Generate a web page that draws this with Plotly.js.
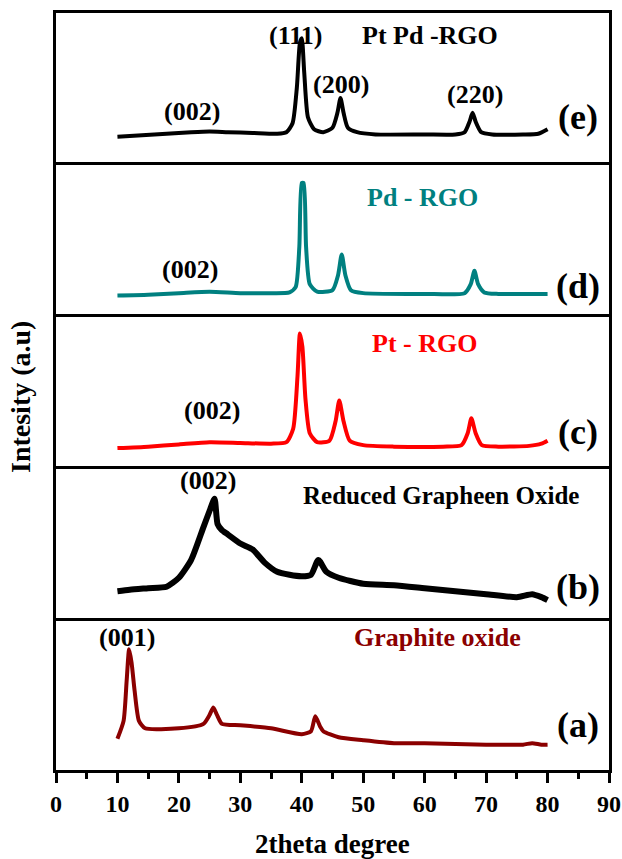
<!DOCTYPE html>
<html><head><meta charset="utf-8">
<script src="https://cdn.plot.ly/plotly-3.0.1.min.js"></script>
<style>html,body{margin:0;padding:0;background:#fff}</style>
</head><body><div id="chart" style="width:622px;height:859px"></div>
<script>
// 2theta (deg) and normalised intensity (a.u.) per sample
const xE = [10,14,18,22,25,28,32,36,37.5,38.5,39.2,39.7,40.0,40.4,41,42,43.5,45,45.8,46.3,46.8,47.5,49,52,60,65,66.5,67.3,67.8,68.3,69.2,71,76,78.5,80];
const yE = [0.17,0.18,0.19,0.2,0.205,0.2,0.195,0.19,0.2,0.26,0.5,0.8,0.83,0.6,0.3,0.22,0.2,0.23,0.33,0.43,0.33,0.23,0.2,0.185,0.185,0.185,0.2,0.27,0.33,0.27,0.2,0.185,0.185,0.19,0.22];
const xD = [10,15,20,25,30,35,38,39,39.6,40.0,40.3,40.7,41.3,42.5,45,45.9,46.5,47.1,48,50,60,66.5,67.5,68.1,68.7,69.7,72,80];
const yD = [0.125,0.13,0.14,0.15,0.14,0.14,0.145,0.18,0.45,0.88,0.88,0.45,0.2,0.15,0.16,0.26,0.40,0.26,0.16,0.14,0.135,0.14,0.2,0.29,0.2,0.145,0.135,0.135];
const xC = [10,15,20,25,30,35,37.5,38.6,39.3,39.7,40.1,40.6,41.3,42.5,44.5,45.5,46.1,46.8,47.8,50,55,63,66,67,67.6,68.3,69.3,72,77,79,80];
const yC = [0.12,0.13,0.145,0.16,0.155,0.15,0.16,0.25,0.6,0.89,0.8,0.45,0.22,0.16,0.17,0.3,0.44,0.3,0.17,0.14,0.13,0.13,0.14,0.22,0.32,0.22,0.14,0.13,0.135,0.15,0.17];
const xB = [10,12,15,18,20,22,24,25,25.8,26.3,27,28,30,32,34,36,38,40,41.5,42.7,44,46,50,55,60,65,70,75,77.5,79,80];
const yB = [0.18,0.19,0.2,0.21,0.27,0.39,0.61,0.72,0.8,0.63,0.59,0.56,0.5,0.46,0.37,0.31,0.29,0.28,0.29,0.39,0.31,0.27,0.23,0.22,0.2,0.18,0.16,0.14,0.16,0.14,0.12];
const xA = [10,11,11.5,11.9,12.3,12.8,13.5,14.5,20,24,25,25.6,26.2,27,30,35,40,41.5,42.2,43,43.5,46,50,55,60,70,76,77.5,79,80];
const yA = [0.21,0.33,0.6,0.81,0.72,0.53,0.33,0.28,0.28,0.31,0.37,0.42,0.37,0.31,0.30,0.28,0.24,0.26,0.36,0.29,0.26,0.22,0.20,0.18,0.18,0.17,0.17,0.18,0.17,0.17];

const xTickVals = [0,10,20,30,40,50,60,70,80,90];
const xTitle = '2theta degree';
const yTitle = 'Intesity (a.u)';
const panelTags = ['(a)','(b)','(c)','(d)','(e)'];
const sampleNames = ['Graphite oxide','Reduced Grapheen Oxide','Pt - RGO','Pd - RGO','Pt Pd -RGO'];
const planeLabels = ['(001)','(002)','(002)','(002)','(002)','(111)','(200)','(220)'];

const FAM = '"Liberation Serif", "Times New Roman", serif';
const colors = ['#8b0000','#000000','#ff0000','#008080','#000000'];

const series = [[xA,yA],[xB,yB],[xC,yC],[xD,yD],[xE,yE]];
const traces = series.map((s,i)=>({
  x:s[0], y:s[1], type:'scatter', mode:'lines',
  line:{color:colors[i], width: i===1?6:4, shape:'spline', smoothing:0.6},
  xaxis: i===0?'x':'x'+(i+1), yaxis: i===0?'y':'y'+(i+1),
  hoverinfo:'skip', showlegend:false
}));

const PLOT_H = 757, GAP = 3, PH = (PLOT_H - 4*GAP)/5;
const layout = {
  width:622, height:859,
  margin:{l:56, r:13, t:13, b:89},
  paper_bgcolor:'#fff', plot_bgcolor:'#fff',
  showlegend:false,
  font:{family:FAM, color:'#000'},
  annotations:[]
};
for (let i=0;i<5;i++){
  const xk = i===0?'xaxis':'xaxis'+(i+1);
  const yk = i===0?'yaxis':'yaxis'+(i+1);
  const yid = i===0?'y':'y'+(i+1);
  const d0 = i*(PH+GAP)/PLOT_H, d1 = Math.min(1, d0 + PH/PLOT_H);
  layout[xk] = {
    anchor:yid, range:[0,90], showline:true, mirror:true, linewidth:3, linecolor:'#000',
    showgrid:false, zeroline:false, fixedrange:true,
    ticks: i===0?'outside':'', showticklabels: i===0,
  };
  if (i>0) layout[xk].matches = 'x';
  layout[yk] = {
    anchor: i===0?'x':'x'+(i+1), domain:[d0, d1], range:[0,1],
    showline:true, mirror:true, linewidth:3, linecolor:'#000',
    showgrid:false, zeroline:false, showticklabels:false, ticks:'', fixedrange:true
  };
}
Object.assign(layout.xaxis, {
  tickmode:'array', tickvals:xTickVals, ticktext:xTickVals.map(String),
  ticklen:10, tickwidth:3, tickcolor:'#000',
  tickfont:{family:FAM, size:24, weight:700, color:'#000'},
  minor:{dtick:5, tick0:0, ticks:'outside', ticklen:6, tickwidth:3, tickcolor:'#000'}
});

function ann(panel, text, x, y, size, color, xanchor){
  const xr = panel===0?'x':'x'+(panel+1);
  const yr = panel===0?'y':'y'+(panel+1);
  layout.annotations.push({xref:xr, yref:yr, x:x, y:y, text:text, showarrow:false,
    xanchor:xanchor||'center', yanchor:'middle',
    font:{family:FAM, size:size, weight:700, color:color}});
}
// panel tags
const tagY = [0.30,0.21,0.23,0.19,0.30];
for (let i=0;i<5;i++) ann(i, panelTags[i], 85, tagY[i], 36, '#000');
// sample names
ann(0, sampleNames[0], 62.1, 0.89, 26, '#8b0000');
ann(1, sampleNames[1], 62.7, 0.82, 25, '#000');
ann(2, sampleNames[2], 59.9, 0.82, 26, '#ff0000');
ann(3, sampleNames[3], 59.7, 0.78, 26, '#008080');
ann(4, sampleNames[4], 49.5, 0.85, 26, '#000', 'left');
// plane labels
ann(0, planeLabels[0], 11.6, 0.89, 26, '#000');
ann(1, planeLabels[1], 24.8, 0.92, 26, '#000');
ann(2, planeLabels[2], 25.4, 0.37, 26, '#000');
ann(3, planeLabels[3], 21.8, 0.30, 26, '#000');
ann(4, planeLabels[4], 22.2, 0.34, 26, '#000');
ann(4, planeLabels[5], 38.9, 0.85, 26, '#000');
ann(4, planeLabels[6], 46.4, 0.52, 26, '#000');
ann(4, planeLabels[7], 68.2, 0.45, 26, '#000');
// axis titles
layout.annotations.push({xref:'paper', yref:'paper', x:0.5, y:(770-844)/757, text:xTitle,
  showarrow:false, xanchor:'center', yanchor:'middle', font:{family:FAM, size:27, weight:700, color:'#000'}});
layout.annotations.push({xref:'paper', yref:'paper', x:(20-56)/553, y:(770-397)/757, text:yTitle,
  showarrow:false, textangle:-90, xanchor:'center', yanchor:'middle', font:{family:FAM, size:28, weight:700, color:'#000'}});

Plotly.newPlot('chart', traces, layout, {staticPlot:true, displayModeBar:false});
</script></body></html>
